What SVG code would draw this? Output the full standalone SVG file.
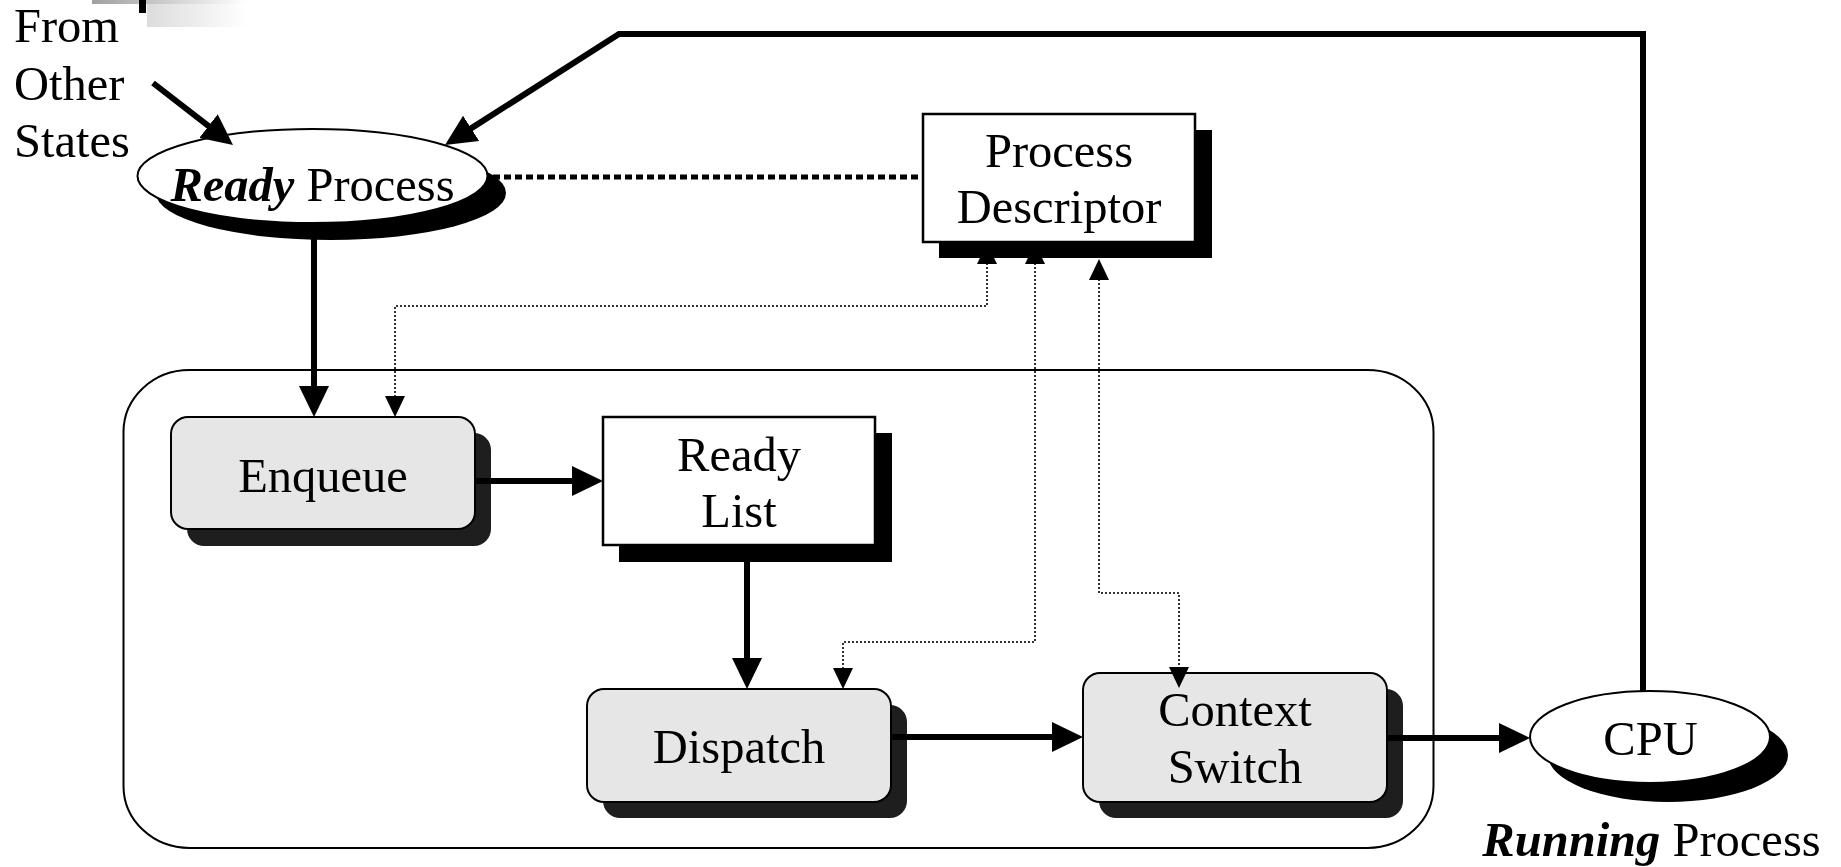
<svg xmlns="http://www.w3.org/2000/svg" width="1841" height="867" viewBox="0 0 1841 867">
  <defs>
    <style>
      text { font-family: "Liberation Serif", "Times New Roman", serif; font-size: 48.5px; fill: #000; }
      .mid { text-anchor: middle; }
      .bi { font-weight: bold; font-style: italic; }
      .proc { fill: #e6e6e6; stroke: #000; stroke-width: 2; }
      .procShadow { fill: #1e1e1e; }
      .store { fill: #fff; stroke: #000; stroke-width: 2.5; }
      .storeShadow { fill: #000; }
      .state { fill: #fff; stroke: #000; stroke-width: 2; }
      .stateShadow { fill: #000; }
      .flow { fill: none; stroke: #000; stroke-width: 6; stroke-linejoin: miter; }
      .link { fill: none; stroke: #000; stroke-width: 5; stroke-dasharray: 7 4; }
      .ref { fill: none; stroke: #333; stroke-width: 2; stroke-dasharray: 2 2; }
    </style>
    <marker id="arr" markerUnits="userSpaceOnUse" markerWidth="31" markerHeight="30" refX="1" refY="15" orient="auto">
      <path d="M0,0 L31,15 L0,30 z" fill="#000"/>
    </marker>
    <marker id="sarr" markerUnits="userSpaceOnUse" markerWidth="21" markerHeight="20" refX="1" refY="10" orient="auto-start-reverse">
      <path d="M0,0 L21,10 L0,20 z" fill="#000"/>
    </marker>
    <linearGradient id="barFade" x1="0" y1="0" x2="1" y2="0">
      <stop offset="0" stop-color="#a0a0a0"/>
      <stop offset="1" stop-color="#ffffff"/>
    </linearGradient>
    <linearGradient id="blockFade" x1="0" y1="0" x2="1" y2="0">
      <stop offset="0" stop-color="#dcdcdc"/>
      <stop offset="1" stop-color="#ffffff"/>
    </linearGradient>
  </defs>

  <rect width="1841" height="867" fill="#fff"/>

  <!-- title bar ornament, top left -->
  <g id="ornament">
    <rect x="92" y="0" width="155" height="4" fill="url(#barFade)"/>
    <rect x="147" y="4" width="100" height="23" fill="url(#blockFade)"/>
    <rect x="139" y="0" width="7" height="13" fill="#000"/>
  </g>

  <!-- scheduler boundary -->
  <g id="scheduler">
    <rect x="123.5" y="370" width="1310" height="478" rx="66" ry="62" fill="none" stroke="#000" stroke-width="2"/>
  </g>

  <g id="from-other-states">
    <text x="14" y="42">From</text>
    <text x="14" y="100">Other</text>
    <text x="14" y="157">States</text>
  </g>

  <g id="ready-process">
    <ellipse cx="331" cy="193" rx="175" ry="47" class="stateShadow"/>
    <ellipse cx="312.5" cy="176" rx="175" ry="47" class="state"/>
    <text x="312.5" y="201" class="mid"><tspan class="bi">Ready</tspan> Process</text>
  </g>

  <g id="enqueue">
    <rect x="187" y="433" width="304" height="113" rx="17" class="procShadow"/>
    <rect x="171" y="417" width="304" height="112" rx="17" class="proc"/>
    <text x="323" y="492" class="mid">Enqueue</text>
  </g>

  <g id="ready-list">
    <rect x="619" y="433" width="273" height="129" class="storeShadow"/>
    <rect x="603" y="417" width="272" height="128" class="store"/>
    <text x="739" y="471" class="mid">Ready</text>
    <text x="739" y="527" class="mid">List</text>
  </g>

  <g id="dispatch">
    <rect x="603" y="705" width="304" height="113" rx="17" class="procShadow"/>
    <rect x="587" y="689" width="304" height="113" rx="17" class="proc"/>
    <text x="739" y="763" class="mid">Dispatch</text>
  </g>

  <g id="context-switch">
    <rect x="1099" y="689" width="304" height="129" rx="17" class="procShadow"/>
    <rect x="1083" y="673" width="304" height="129" rx="17" class="proc"/>
    <text x="1235" y="726" class="mid">Context</text>
    <text x="1235" y="783" class="mid">Switch</text>
  </g>

  <g id="cpu">
    <ellipse cx="1668" cy="755" rx="120" ry="47" class="stateShadow"/>
    <ellipse cx="1650" cy="737" rx="120" ry="46" class="state"/>
    <text x="1650.5" y="755" class="mid">CPU</text>
    <text x="1651.5" y="856" class="mid"><tspan class="bi">Running</tspan> Process</text>
  </g>

  <!-- connectors -->
  <g id="connectors">
    <!-- control flow -->
    <line x1="153" y1="83" x2="209.3" y2="126.6" class="flow" marker-end="url(#arr)"/>
    <polyline points="1643,691 1643,34 619,34 470.3,128.9" class="flow" marker-end="url(#arr)"/>
    <line x1="314" y1="238" x2="314" y2="387" class="flow" marker-end="url(#arr)"/>
    <line x1="475" y1="481" x2="573" y2="481" class="flow" marker-end="url(#arr)"/>
    <line x1="747" y1="562" x2="747" y2="659" class="flow" marker-end="url(#arr)"/>
    <line x1="891" y1="737" x2="1053" y2="737" class="flow" marker-end="url(#arr)"/>
    <line x1="1387" y1="738" x2="1500" y2="738" class="flow" marker-end="url(#arr)"/>

    <!-- descriptor association -->
    <line x1="493" y1="177" x2="923" y2="177" class="link"/>

    <!-- descriptor references -->
    <path d="M987,263 V306 H395 V397" class="ref" marker-start="url(#sarr)" marker-end="url(#sarr)"/>
    <path d="M1035,263 V642 H843 V669" class="ref" marker-start="url(#sarr)" marker-end="url(#sarr)"/>
    <path d="M1099,279 V593 H1179 V668" class="ref" marker-start="url(#sarr)" marker-end="url(#sarr)"/>
  </g>

  <g id="process-descriptor">
    <rect x="939" y="130" width="273" height="128" class="storeShadow"/>
    <rect x="923" y="114" width="272" height="128" class="store"/>
    <text x="1059" y="167" class="mid">Process</text>
    <text x="1059" y="223" class="mid">Descriptor</text>
  </g>
</svg>
